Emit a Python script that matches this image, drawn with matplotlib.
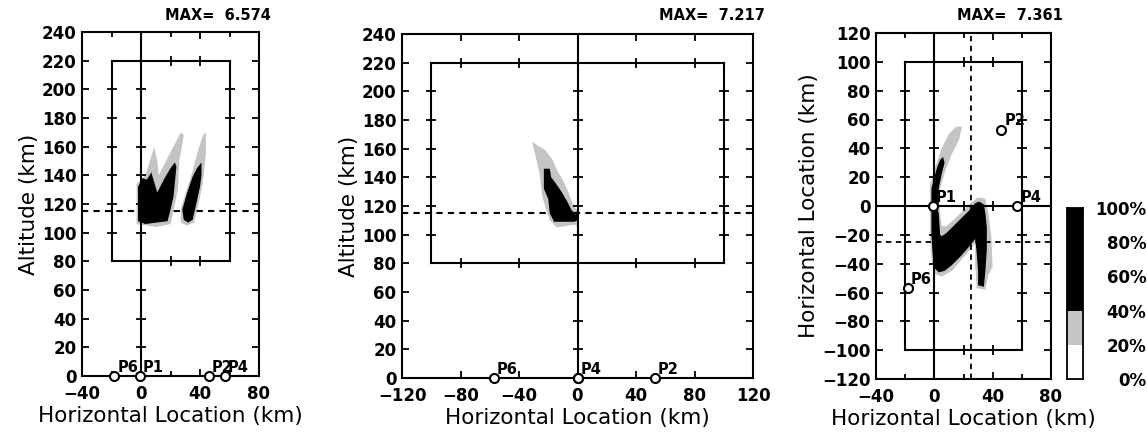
import numpy as np
import matplotlib
matplotlib.use("Agg")
import matplotlib.pyplot as plt
from matplotlib.ticker import MultipleLocator

# station positions (km): east, north
st_names = ["P1", "P2", "P4", "P6"]
st_east = [-1, 46, 57, -18]
st_north = [0, 53, 0, -57]

max_values = [6.574, 7.217, 7.361]
alt_line = 115           # dashed altitude line (km)
epi_east, epi_north = 25, -25

# density outlines, 40-100% (black) and 20-40% (gray)
p1_black_a = [(-2, 108), (-2, 132), (1, 138), (4, 137), (7, 142), (9, 135), (11, 128),
              (16, 138), (20, 145), (23, 149), (24, 146), (22, 125), (20, 116),
              (18, 108), (10, 107), (3, 106)]
p1_black_b = [(29, 109), (28, 116), (31, 127), (35, 139), (38, 145), (41, 149), (41, 140),
              (40, 132), (37, 118), (35, 109), (32, 107)]
p1_gray_a = [(-3, 106), (-3, 134), (3, 140), (6, 150), (9, 160), (11, 150), (12, 140),
             (17, 150), (22, 160), (27, 170), (29, 168), (26, 150), (25, 130),
             (22, 115), (20, 106), (10, 104)]
p1_gray_b = [(27, 107), (27, 117), (31, 130), (35, 143), (38, 155), (42, 168), (44, 170),
             (44, 155), (42, 135), (39, 120), (36, 107), (31, 105)]

p2_black = [(-23, 146), (-19, 146), (-18, 140), (-15, 136), (-11, 130), (-7, 123),
            (-4, 117), (-1, 114), (0, 118), (0, 110), (-2, 109), (-16, 109),
            (-19, 115), (-20, 125), (-23, 132)]
p2_gray = [(-31, 165), (-27, 162), (-22, 159), (-17, 152), (-14, 145), (-10, 138),
           (-6, 129), (-3, 121), (0, 117), (0, 106), (-2, 107), (-14, 105),
           (-19, 110), (-24, 126), (-26, 143)]

p3_black_up = [(-2, 1), (-2, 12), (0, 20), (2, 27), (4, 32), (6, 34), (7, 30),
               (5, 22), (3, 12), (3, 1)]
p3_gray_up = [(-3, 0), (-3, 15), (1, 28), (5, 40), (10, 50), (15, 55), (19, 55),
              (17, 46), (12, 36), (8, 26), (4, 12), (3, 0)]
p3_black_n = [(-2, 2), (-2, -20), (-1, -35), (0, -43), (3, -46), (7, -45), (12, -41),
              (18, -35), (24, -28), (28, -23), (29, -32), (30, -45), (30, -55),
              (34, -56), (35, -45), (36, -30), (36, -15), (35, -5), (34, 1),
              (31, 3), (28, 2), (25, -2), (20, -7), (14, -13), (8, -19),
              (5, -21), (4, -20), (3, -5), (1, 2)]
p3_gray_n = [(-3, 4), (-3, -20), (-2, -36), (0, -47), (5, -49), (12, -45), (18, -38),
             (24, -31), (28, -26), (28, -40), (29, -57), (35, -58), (37, -48),
             (40, -42), (39, -20), (37, -5), (35, 5), (30, 6), (26, 3), (20, -3),
             (14, -9), (8, -14), (5, -14), (4, -5), (3, 4)]

cbar_levels = [0, 20, 40, 100]
cbar_colors = ["white", "#c4c4c4", "black"]
cbar_ticks = [0, 20, 40, 60, 80, 100]

GRAY = "#c4c4c4"
LW = 1.5
DASH = (0, (3, 2.5))

plt.rcParams["font.family"] = "DejaVu Sans"

fig = plt.figure(figsize=(11.47, 4.37), dpi=100)


def px_axes(l, r, t, b):
    W, H = 1147., 437.
    return fig.add_axes([l / W, 1 - b / H, (r - l) / W, (b - t) / H])


def style(ax, xlim, ylim, xmajor, xminor, ymajor, xlabel, ylabel):
    ax.set_xlim(xlim)
    ax.set_ylim(ylim)
    ax.xaxis.set_major_locator(MultipleLocator(xmajor))
    if xminor:
        ax.xaxis.set_minor_locator(MultipleLocator(xminor))
    ax.yaxis.set_major_locator(MultipleLocator(ymajor))
    ax.tick_params(which="both", direction="in", top=True, right=True, width=1.3)
    ax.tick_params(which="major", length=5, labelsize=12, pad=4)
    ax.tick_params(axis="x", which="major", pad=6.5)
    ax.tick_params(which="minor", length=3.5)
    for lab in ax.get_xticklabels() + ax.get_yticklabels():
        lab.set_fontweight("bold")
    for s in ax.spines.values():
        s.set_linewidth(LW)
    ax.set_xlabel(xlabel, fontsize=15.5, labelpad=2)
    ax.set_ylabel(ylabel, fontsize=15.5, labelpad=2)


def vline_ticked(ax, x, y0, y1, ticks):
    ax.plot([x, x], [y0, y1], color="k", lw=LW, zorder=3)
    t = [v for v in ticks if y0 < v < y1]
    ax.plot([x] * len(t), t, ls="none", marker="_", ms=7, mew=1.3, color="k", zorder=3)


def hline_ticked(ax, y, x0, x1, ticks):
    ax.plot([x0, x1], [y, y], color="k", lw=LW, zorder=3)
    t = [v for v in ticks if x0 < v < x1]
    ax.plot(t, [y] * len(t), ls="none", marker="|", ms=7, mew=1.3, color="k", zorder=3)


def box(ax, x0, x1, y0, y1, xt, yt):
    vline_ticked(ax, x0, y0, y1, yt)
    vline_ticked(ax, x1, y0, y1, yt)
    hline_ticked(ax, y0, x0, x1, xt)
    hline_ticked(ax, y1, x0, x1, xt)


def blob(ax, pts, color):
    xs, ys = zip(*pts)
    ax.fill(xs, ys, color=color, lw=0, zorder=2)


def stations(ax, xs, ys, names, skip=()):
    ax.plot(xs, ys, ls="none", marker="o", ms=6.5, mfc="white", mec="k", mew=1.5,
            clip_on=False, zorder=5)
    for x, y, n in zip(xs, ys, names):
        if n in skip:
            continue
        ax.annotate(n, (x, y), xytext=(2, 3), textcoords="offset points",
                    fontsize=10.5, fontweight="bold", zorder=6, annotation_clip=False)


def max_label(ax, value):
    bb = ax.get_position()
    fig.text(bb.x1 + 12 / 1147., 1 - 16 / 437., "MAX=  %.3f" % value, ha="right",
             va="center", fontsize=10.5, fontweight="bold")


yt_full = np.arange(-120, 241, 20)

# panel 1: east vs altitude
ax1 = px_axes(82, 259, 32, 376)
style(ax1, (-40, 80), (0, 240), 40, 20, 20, "Horizontal Location (km)", "Altitude (km)")
for pts in (p1_gray_a, p1_gray_b):
    blob(ax1, pts, GRAY)
for pts in (p1_black_a, p1_black_b):
    blob(ax1, pts, "black")
vline_ticked(ax1, 0, 0, 240, yt_full)
box(ax1, -20, 60, 80, 220, np.arange(-40, 81, 20), yt_full)
ax1.axhline(alt_line, color="k", lw=1.5, ls=DASH, zorder=3)
stations(ax1, st_east, [0] * len(st_east), st_names)
max_label(ax1, max_values[0])

# panel 2: north vs altitude
ax2 = px_axes(402, 753, 34, 378)
style(ax2, (-120, 120), (0, 240), 40, None, 20, "Horizontal Location (km)", "Altitude (km)")
blob(ax2, p2_gray, GRAY)
blob(ax2, p2_black, "black")
vline_ticked(ax2, 0, 0, 240, yt_full)
box(ax2, -100, 100, 80, 220, np.arange(-120, 121, 40), yt_full)
ax2.axhline(alt_line, color="k", lw=1.5, ls=DASH, zorder=3)
stations(ax2, st_north, [0] * len(st_north), st_names, skip=("P1",))
max_label(ax2, max_values[1])

# panel 3: map view
ax3 = px_axes(876, 1051, 33, 379)
style(ax3, (-40, 80), (-120, 120), 40, 20, 20, "Horizontal Location (km)",
      "Horizontal Location (km)")
for pts in (p3_gray_up, p3_gray_n):
    blob(ax3, pts, GRAY)
for pts in (p3_black_up, p3_black_n):
    blob(ax3, pts, "black")
vline_ticked(ax3, 0, -120, 120, yt_full)
hline_ticked(ax3, 0, -40, 80, np.arange(-40, 81, 20))
box(ax3, -20, 60, -100, 100, np.arange(-40, 81, 20), yt_full)
ax3.axvline(epi_east, color="k", lw=1.3, ls=DASH, zorder=3)
ax3.axhline(epi_north, color="k", lw=1.3, ls=DASH, zorder=3)
ax3.plot([epi_east - 2], [epi_north + 1], ls="none", marker="o", ms=4, mfc="none",
         mec="k", mew=1, zorder=4)
stations(ax3, st_east, st_north, st_names)
max_label(ax3, max_values[2])

# colour scale
axc = px_axes(1067, 1083, 208, 379)
for lo, hi, c in zip(cbar_levels[:-1], cbar_levels[1:], cbar_colors):
    axc.bar(0, hi - lo, bottom=lo, width=1, color=c, lw=0)
axc.set_xlim(-0.5, 0.5)
axc.set_ylim(0, 100)
axc.set_xticks([])
axc.set_yticks(cbar_ticks)
axc.set_yticklabels(["%d%%" % v for v in cbar_ticks])
axc.tick_params(axis="y", left=False, right=False, labelleft=False, labelright=True,
                pad=42, labelsize=12)
for lab in axc.get_yticklabels():
    lab.set_horizontalalignment("right")
    lab.set_fontweight("bold")
for s in axc.spines.values():
    s.set_linewidth(1.3)

plt.savefig("out.png", dpi=100, facecolor="w")
plt.close()
